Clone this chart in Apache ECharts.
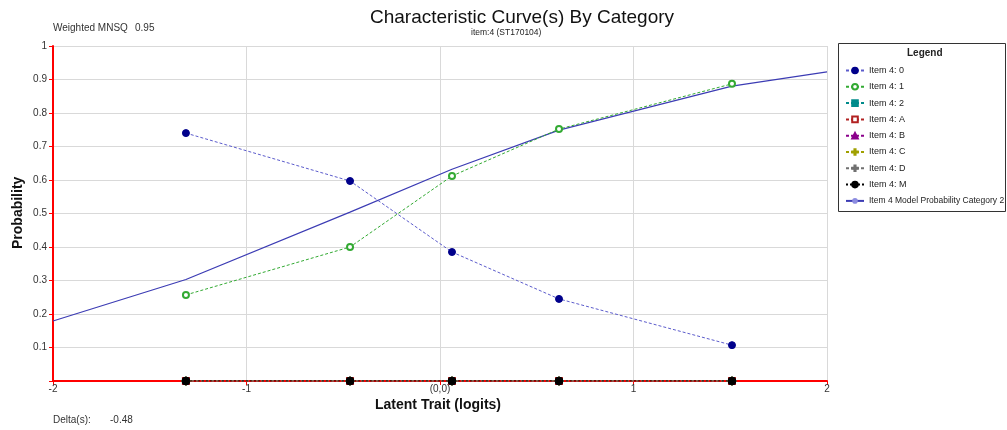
<!DOCTYPE html>
<html>
<head>
<meta charset="utf-8">
<script src="https://cdn.jsdelivr.net/npm/echarts@6/dist/echarts.min.js"></script>
<style>
  html, body { margin: 0; padding: 0; background: #fff; }
  #chart { width: 1007px; height: 430px; }
</style>
</head>
<body>
<div id="chart"></div>
<script>
// Latent trait positions (logits) of the score groups
const groupX = [-1.313, -0.465, 0.062, 0.615, 1.509];

// Observed proportions per response category
const cat0 = [0.740, 0.597, 0.385, 0.245, 0.107];
const cat1 = [0.257, 0.400, 0.612, 0.752, 0.887];
const cat2 = [0, 0, 0, 0, 0];
const catA = [0, 0, 0, 0, 0];
const catB = [0, 0, 0, 0, 0];
const catC = [0, 0, 0, 0, 0];
const catD = [0, 0, 0, 0, 0];
const catM = [0, 0, 0, 0, 0];

// Model probability curve for category 2
const modelX = [-2, -1.313, -0.465, 0.062, 0.615, 1.509, 2];
const modelY = [0.179, 0.303, 0.504, 0.632, 0.749, 0.880, 0.923];

// Axis tick labels
const xTicks = { '-2': '-2', '-1': '-1', '0': '(0,0)', '1': '1', '2': '2' };

const pairs = (xs, ys) => xs.map((x, i) => [x, ys[i]]);
const plusPath = 'path://M4,0h2v4h4v2h-4v4h-2v-4h-4v-2h4z';
const FONT = '"Liberation Sans", Arial, sans-serif';
const MODEL_NAME = 'Item 4 Model Probability Category 2';

function catSeries(name, data, color, lineColor, symbol, extra) {
  return Object.assign({
    name: name,
    type: 'line',
    data: pairs(groupX, data),
    symbol: symbol,
    symbolSize: 6,
    itemStyle: { color: color, borderColor: color, borderWidth: 1 },
    lineStyle: { color: lineColor, width: 1, type: [3, 2] },
    emphasis: { disabled: true },
    animation: false
  }, extra || {});
}

const chart = echarts.init(document.getElementById('chart'), null, { renderer: 'canvas' });

chart.setOption({
  backgroundColor: '#ffffff',
  animation: false,
  textStyle: { fontFamily: FONT },
  grid: { left: 53, right: 180, top: 46, bottom: 49, containLabel: false },
  xAxis: {
    type: 'value',
    min: -2, max: 2, interval: 1,
    axisLine: { onZero: false, lineStyle: { color: '#ff0000', width: 2 } },
    axisTick: { show: true, length: 4, lineStyle: { color: '#ff0000', width: 1 } },
    axisLabel: {
      color: '#333', fontSize: 10, margin: 3,
      formatter: v => xTicks[String(v)] || ''
    },
    splitLine: { show: true, lineStyle: { color: '#d9d9d9', width: 1 } }
  },
  yAxis: {
    type: 'value',
    min: 0, max: 1, interval: 0.1,
    axisLine: { show: true, onZero: false, lineStyle: { color: '#ff0000', width: 2 } },
    axisTick: { show: true, length: 4, lineStyle: { color: '#ff0000', width: 1 } },
    axisLabel: {
      color: '#333', fontSize: 10, margin: 6,
      formatter: v => (v === 0 ? '' : String(Math.round(v * 10) / 10))
    },
    splitLine: { show: true, lineStyle: { color: '#d9d9d9', width: 1 } }
  },
  legend: {
    orient: 'vertical',
    left: 840,
    top: 61,
    itemWidth: 18,
    itemHeight: 7,
    itemGap: 7.3,
    textStyle: { fontSize: 9, color: '#222', fontFamily: FONT },
    selectedMode: false,
    data: [
      'Item 4: 0', 'Item 4: 1', 'Item 4: 2', 'Item 4: A', 'Item 4: B',
      'Item 4: C', 'Item 4: D', 'Item 4: M',
      { name: MODEL_NAME, textStyle: { fontSize: 8.5 } }
    ]
  },
  graphic: [
    { type: 'rect', shape: { x: 838.5, y: 43.5, width: 167, height: 168 },
      style: { fill: 'none', stroke: '#333', lineWidth: 1 }, z: 10 },
    { type: 'text', left: 907, top: 48,
      style: { text: 'Legend', font: 'bold 10px ' + FONT, fill: '#222' } },
    { type: 'text', left: 370, top: 8,
      style: { text: 'Characteristic Curve(s) By Category', font: '19px ' + FONT, fill: '#111' } },
    { type: 'text', left: 471, top: 28,
      style: { text: 'item:4 (ST170104)', font: '8.5px ' + FONT, fill: '#222' } },
    { type: 'text', left: 53, top: 23,
      style: { text: 'Weighted MNSQ', font: '10px ' + FONT, fill: '#333' } },
    { type: 'text', left: 135, top: 23,
      style: { text: '0.95', font: '10px ' + FONT, fill: '#333' } },
    { type: 'text', left: 53, top: 415,
      style: { text: 'Delta(s):', font: '10px ' + FONT, fill: '#333' } },
    { type: 'text', left: 110, top: 415,
      style: { text: '-0.48', font: '10px ' + FONT, fill: '#333' } },
    { type: 'text', left: 375, top: 398,
      style: { text: 'Latent Trait (logits)', font: 'bold 14px ' + FONT, fill: '#111' } },
    { type: 'text', x: 11, y: 249, rotation: Math.PI / 2,
      style: { text: 'Probability', font: 'bold 14px ' + FONT, fill: '#111' } }
  ],
  series: [
    catSeries('Item 4: 2', cat2, '#008b8b', '#008b8b', 'rect'),
    catSeries('Item 4: A', catA, '#b22222', '#b22222', 'emptyRect'),
    catSeries('Item 4: B', catB, '#8b008b', '#8b008b', 'triangle'),
    catSeries('Item 4: C', catC, '#a0a000', '#a0a000', plusPath, { symbolSize: 8 }),
    catSeries('Item 4: D', catD, '#707070', '#707070', plusPath, { symbolSize: 8 }),
    catSeries('Item 4: M', catM, '#000000', '#000000', 'circle',
      { symbolSize: 8, lineStyle: { color: '#000', width: 1.2, type: [2, 2] } }),
    catSeries('Item 4: 0', cat0, '#00008b', '#5c5ccc', 'circle', { symbolSize: 7 }),
    catSeries('Item 4: 1', cat1, '#33aa33', '#33aa33', 'emptyCircle'),
    {
      name: MODEL_NAME,
      type: 'line',
      data: pairs(modelX, modelY),
      symbol: 'none',
      lineStyle: { color: '#3c3cb4', width: 1.2 },
      itemStyle: { color: '#8c8ce0' },
      emphasis: { disabled: true },
      z: 1
    }
  ]
});
</script>
</body>
</html>
